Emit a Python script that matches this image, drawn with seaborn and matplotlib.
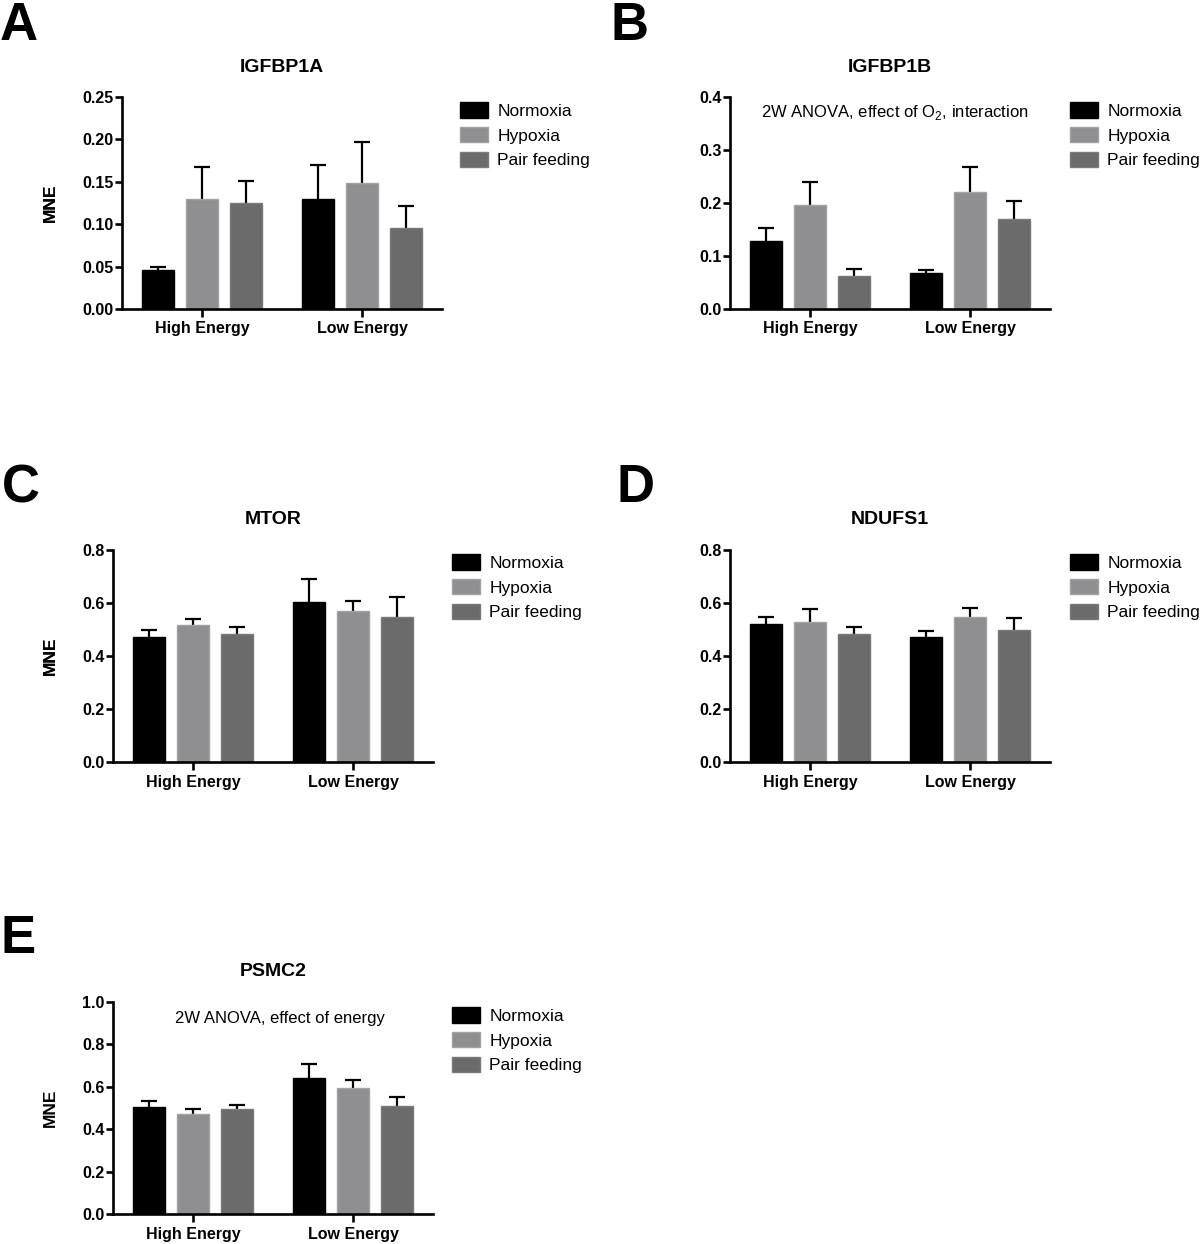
import numpy as np
import pandas as pd
import matplotlib
matplotlib.use("Agg")
import matplotlib.pyplot as plt
import seaborn as sns
from matplotlib.patches import Patch

# ---------------- data ----------------
energy = ["High Energy", "Low Energy"]
groups = ["Normoxia", "Hypoxia", "Pair feeding"]

# order: High Energy (Normoxia, Hypoxia, Pair feeding), Low Energy (Normoxia, Hypoxia, Pair feeding)
igfbp1a_mean = [0.046, 0.130, 0.125, 0.130, 0.148, 0.096]
igfbp1a_sem = [0.003, 0.037, 0.026, 0.040, 0.049, 0.025]

igfbp1b_mean = [0.128, 0.196, 0.062, 0.068, 0.220, 0.170]
igfbp1b_sem = [0.025, 0.044, 0.014, 0.005, 0.048, 0.033]

mtor_mean = [0.473, 0.517, 0.482, 0.602, 0.570, 0.546]
mtor_sem = [0.027, 0.021, 0.026, 0.090, 0.038, 0.076]

ndufs1_mean = [0.520, 0.530, 0.482, 0.470, 0.548, 0.498]
ndufs1_sem = [0.028, 0.046, 0.026, 0.024, 0.034, 0.044]

psmc2_mean = [0.507, 0.470, 0.497, 0.643, 0.592, 0.510]
psmc2_sem = [0.026, 0.027, 0.016, 0.064, 0.040, 0.043]

titles = ["IGFBP1A", "IGFBP1B", "MTOR", "NDUFS1", "PSMC2"]
letters = ["A", "B", "C", "D", "E"]
yticks_list = [
    [0.00, 0.05, 0.10, 0.15, 0.20, 0.25],
    [0.0, 0.1, 0.2, 0.3, 0.4],
    [0.0, 0.2, 0.4, 0.6, 0.8],
    [0.0, 0.2, 0.4, 0.6, 0.8],
    [0.0, 0.2, 0.4, 0.6, 0.8, 1.0],
]
ytick_fmt = ["{:.2f}", "{:.1f}", "{:.1f}", "{:.1f}", "{:.1f}"]
notes = [None, "2W ANOVA, effect of O$_2$, interaction", None, None, "2W ANOVA, effect of energy"]

colors = ["#000000", "#8f8f91", "#6b6b6b"]
edge_colors = ["#000000", "#a2a2a4", "#7a7a7a"]

# ---------------- style ----------------
sns.set_theme(style="white")
plt.rcParams["font.family"] = ["Liberation Sans", "DejaVu Sans"]
plt.rcParams["mathtext.fontset"] = "custom"
plt.rcParams["mathtext.rm"] = "Liberation Sans"
for key in ["text.color", "axes.labelcolor", "xtick.color", "ytick.color"]:
    plt.rcParams[key] = "black"

W, H = 1200, 1244
fig = plt.figure(figsize=(W / 100, H / 100), dpi=100)

# axes boxes in pixels: left, top, width, height
boxes = [
    (122, 97, 320, 212),
    (730, 97, 320, 212),
    (113, 550, 320, 212),
    (730, 550, 320, 212),
    (113, 1002, 320, 212),
]
letter_pos = [(0, 40), (610, 40), (2, 502), (616, 502), (0, 953)]
title_y = [68, 68, 519, 519, 971]
legend_pos = [(460, 102), (1070, 102), (452, 554), (1070, 554), (452, 1007)]
note_pos = [None, (895, 113), None, None, (280, 1019)]

means = [igfbp1a_mean, igfbp1b_mean, mtor_mean, ndufs1_mean, psmc2_mean]
sems = [igfbp1a_sem, igfbp1b_sem, mtor_sem, ndufs1_sem, psmc2_sem]

for k in range(5):
    l, t, w, h = boxes[k]
    ax = fig.add_axes([l / W, 1 - (t + h) / H, w / W, h / H])
    df = pd.DataFrame({
        "energy": np.repeat(energy, 3),
        "group": groups * 2,
        "value": means[k],
        "sem": sems[k],
    })
    sns.barplot(data=df, x="energy", y="value", hue="group", order=energy,
                hue_order=groups, palette=colors, saturation=1, width=0.825,
                gap=0.27, errorbar=None, legend=False, ax=ax, zorder=2)
    bar_containers = list(ax.containers)
    for gi, cont in enumerate(bar_containers):
        sub = df[df["group"] == groups[gi]].set_index("energy").loc[energy]
        for bar, s in zip(cont, sub["sem"].values):
            bar.set_edgecolor(edge_colors[gi])
            bar.set_linewidth(1.0)
            x = bar.get_x() + bar.get_width() / 2
            y = bar.get_height()
            eb = ax.errorbar(x, y, yerr=[[0], [s]], fmt="none", ecolor="black",
                             elinewidth=1.6, capsize=6, capthick=1.6, zorder=1)
            # keep only the upper cap
            for cap in eb[1]:
                if np.allclose(cap.get_ydata(), y):
                    cap.set_visible(False)
    yt = yticks_list[k]
    ax.set_ylim(0, yt[-1])
    ax.set_xlim(-0.5, 1.5)
    ax.set_yticks(yt)
    ax.set_yticklabels([ytick_fmt[k].format(v) for v in yt], fontweight="bold", fontsize=11.5)
    ax.set_xticks([0, 1])
    ax.set_xticklabels(energy, fontweight="bold", fontsize=11.5)
    ax.set_xlabel("")
    ax.set_ylabel("MNE", fontweight="bold", fontsize=12.5)
    ax.yaxis.set_label_coords((58 - l) / w, 0.5)
    for side in ["top", "right"]:
        ax.spines[side].set_visible(False)
    for side in ["left", "bottom"]:
        ax.spines[side].set_linewidth(1.9)
        ax.spines[side].set_color("black")
        ax.spines[side].set_zorder(3)
    ax.tick_params(axis="y", direction="out", length=5, width=1.9, pad=1, colors="black", left=True)
    ax.tick_params(axis="x", direction="out", length=6, width=1.9, pad=3, colors="black", bottom=True)
    ax.set_facecolor("white")

    fig.text((l + w / 2) / W, 1 - title_y[k] / H, titles[k], ha="center", va="center",
             fontsize=14, fontweight="bold", color="black")
    lx, ly = letter_pos[k]
    fig.text(lx / W, 1 - ly / H, letters[k], ha="left", va="baseline", fontsize=38,
             fontweight="bold", color="black")

    handles = [Patch(facecolor=colors[i], edgecolor=edge_colors[i], linewidth=1.0, label=groups[i])
               for i in range(3)]
    gx, gy = legend_pos[k]
    leg = ax.legend(handles=handles, loc="upper left", bbox_to_anchor=(gx / W, 1 - gy / H),
                    bbox_transform=fig.transFigure, frameon=False, fontsize=12.5,
                    handlelength=1.6, handleheight=1.0, handletextpad=0.55, labelspacing=0.47,
                    borderpad=0, borderaxespad=0)
    for txt in leg.get_texts():
        txt.set_color("black")
    if notes[k]:
        nx, ny = note_pos[k]
        fig.text(nx / W, 1 - ny / H, notes[k], ha="center", va="center", fontsize=12, color="black")

fig.savefig("out.png", dpi=100, facecolor="white")
